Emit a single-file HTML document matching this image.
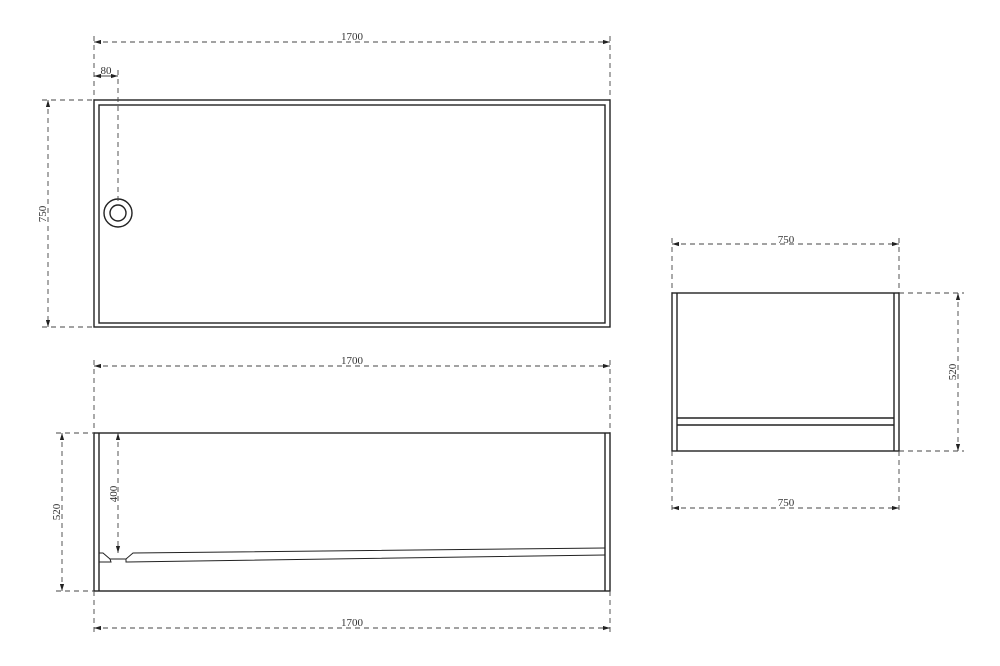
<!DOCTYPE html>
<html><head><meta charset="utf-8"><style>html,body{margin:0;padding:0;background:#fff}svg{display:block}text{font-family:"Liberation Serif",serif;font-size:11px;fill:#333}</style></head>
<body>
<svg width="1000" height="666" viewBox="0 0 1000 666" xmlns="http://www.w3.org/2000/svg">
<defs>
<marker id="a" viewBox="0 0 10 6" refX="10" refY="3" markerWidth="8" markerHeight="5" orient="auto-start-reverse"><path d="M0,0 L10,3 L0,6z" fill="#222"/></marker>
</defs>
<g fill="none" stroke="#222" stroke-width="1.4">
<rect x="94" y="100" width="516" height="227"/>
<rect x="99" y="105" width="506" height="218"/>
<circle cx="118" cy="213" r="14"/>
<circle cx="118" cy="213" r="8"/>
<rect x="94" y="433" width="516" height="158"/>
<line x1="99" y1="433" x2="99" y2="591"/>
<line x1="605" y1="433" x2="605" y2="591"/>
<path d="M99,553 L103,553 L110,559 L126,559 L133,553 L605,548" stroke-width="1"/>
<path d="M99,562 L111,562 L110,559 M126,559 L126,562 L605,555" stroke-width="1"/>
<rect x="672" y="293" width="227" height="158"/>
<line x1="677" y1="293" x2="677" y2="451"/>
<line x1="894" y1="293" x2="894" y2="451"/>
<line x1="677" y1="418" x2="894" y2="418"/>
<line x1="677" y1="425" x2="894" y2="425"/>
</g>
<g fill="none" stroke="#444" stroke-width="0.9" stroke-dasharray="5,4">
<line x1="94" y1="36" x2="94" y2="100"/><line x1="610" y1="36" x2="610" y2="100"/>
<line x1="118" y1="70" x2="118" y2="205"/>
<line x1="42" y1="100" x2="94" y2="100"/><line x1="42" y1="327" x2="94" y2="327"/>
<line x1="94" y1="360" x2="94" y2="433"/><line x1="610" y1="360" x2="610" y2="433"/>
<line x1="94" y1="591" x2="94" y2="634"/><line x1="610" y1="591" x2="610" y2="634"/>
<line x1="56" y1="433" x2="94" y2="433"/><line x1="56" y1="591" x2="94" y2="591"/>
<line x1="672" y1="238" x2="672" y2="293"/><line x1="899" y1="238" x2="899" y2="293"/>
<line x1="672" y1="451" x2="672" y2="514"/><line x1="899" y1="451" x2="899" y2="514"/>
<line x1="899" y1="293" x2="964" y2="293"/><line x1="899" y1="451" x2="964" y2="451"/>
<line x1="94" y1="42" x2="610" y2="42" marker-start="url(#a)" marker-end="url(#a)"/>
<line x1="48" y1="100" x2="48" y2="327" marker-start="url(#a)" marker-end="url(#a)"/>
<line x1="94" y1="366" x2="610" y2="366" marker-start="url(#a)" marker-end="url(#a)"/>
<line x1="62" y1="433" x2="62" y2="591" marker-start="url(#a)" marker-end="url(#a)"/>
<line x1="118" y1="433" x2="118" y2="553" marker-start="url(#a)" marker-end="url(#a)"/>
<line x1="94" y1="628" x2="610" y2="628" marker-start="url(#a)" marker-end="url(#a)"/>
<line x1="672" y1="244" x2="899" y2="244" marker-start="url(#a)" marker-end="url(#a)"/>
<line x1="672" y1="508" x2="899" y2="508" marker-start="url(#a)" marker-end="url(#a)"/>
<line x1="958" y1="293" x2="958" y2="451" marker-start="url(#a)" marker-end="url(#a)"/>
</g>
<line x1="94" y1="76" x2="118" y2="76" stroke="#444" stroke-width="0.9" marker-start="url(#a)" marker-end="url(#a)"/>
<g text-anchor="middle">
<text x="352" y="40">1700</text>
<text x="106" y="74">80</text>
<text transform="translate(46,214) rotate(-90)">750</text>
<text x="352" y="364">1700</text>
<text transform="translate(60,512) rotate(-90)">520</text>
<text transform="translate(117,494) rotate(-90)">400</text>
<text x="352" y="626">1700</text>
<text x="786" y="243">750</text>
<text x="786" y="506">750</text>
<text transform="translate(956,372) rotate(-90)">520</text>
</g>
</svg>
</body></html>
